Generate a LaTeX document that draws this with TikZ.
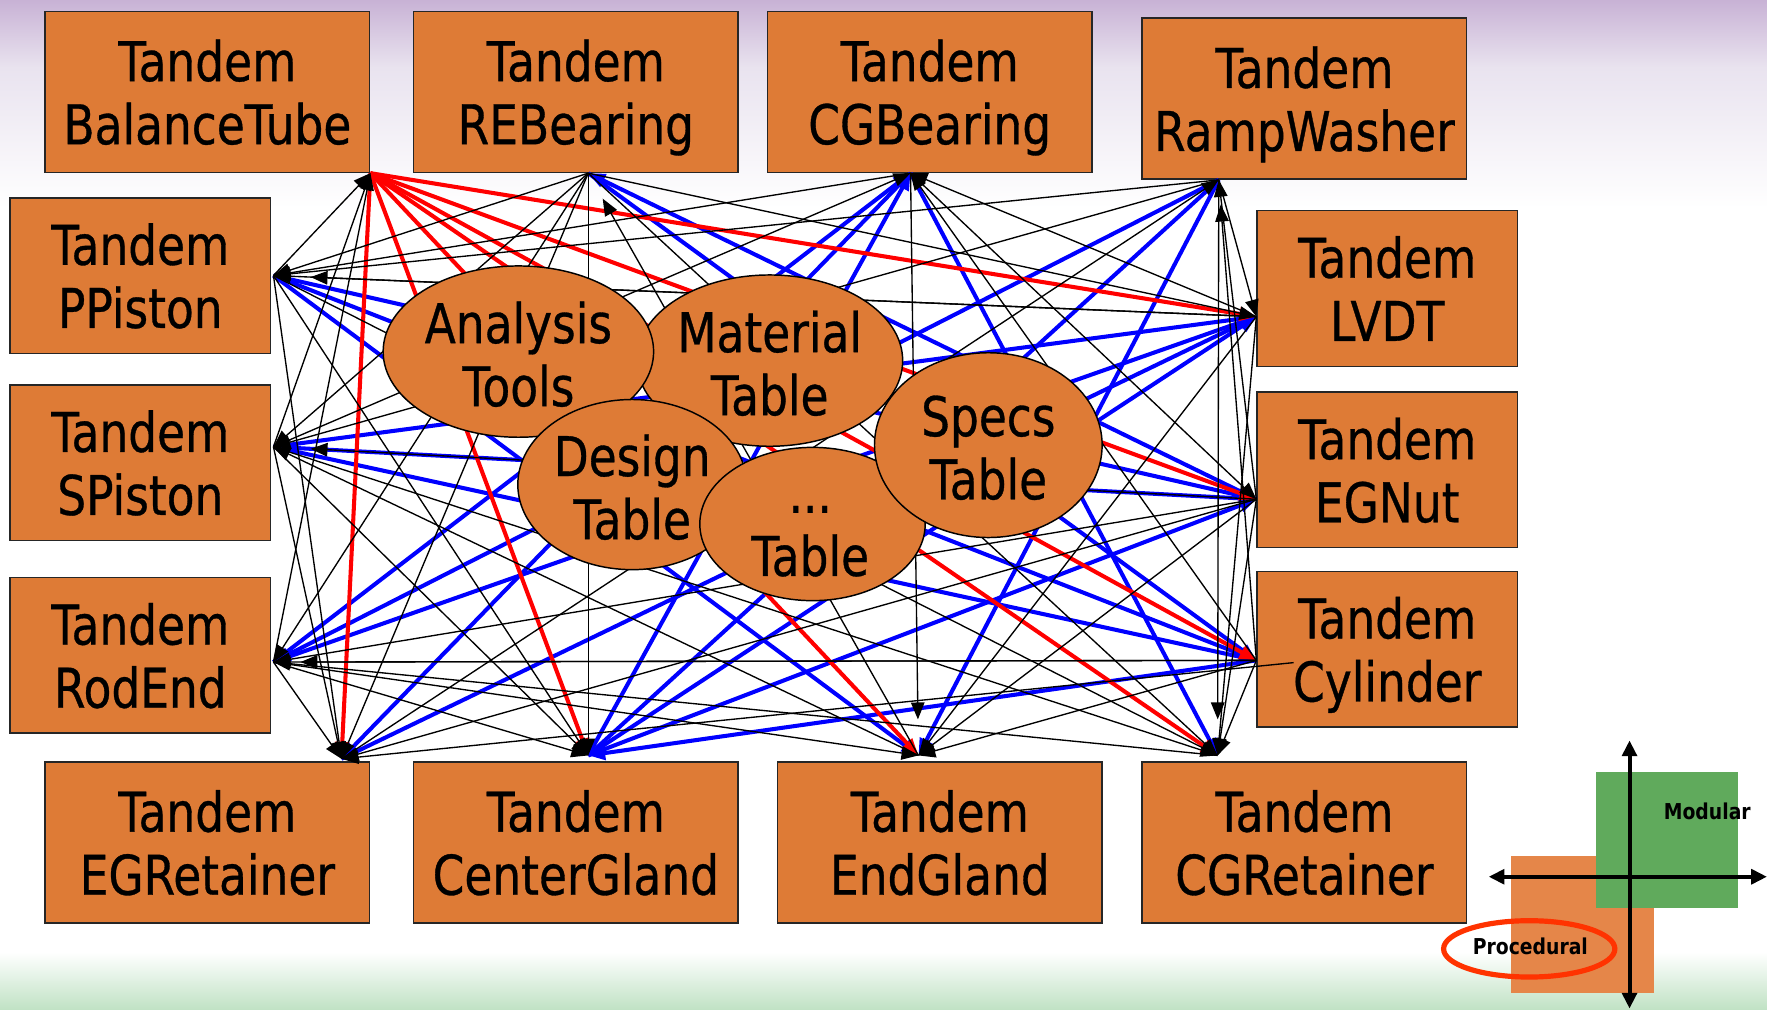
\documentclass[tikz,border=0pt]{standalone}
\usepackage{fontspec}
\usetikzlibrary{arrows.meta,shapes.geometric}
\newfontfamily\partfont[FakeStretch=0.83,FakeBold=0.6]{DejaVu Sans}
\newfontfamily\tagfont[FakeStretch=0.86]{DejaVu Sans}
\definecolor{partorange}{HTML}{DE7B36}
\definecolor{lavtop}{HTML}{C8B2D5}
\definecolor{lavmid}{HTML}{E9E3EF}
\definecolor{mint}{HTML}{C0E2C4}
\definecolor{quadgreen}{HTML}{60AA5C}
\definecolor{quadorange}{HTML}{E58649}
\definecolor{ringred}{HTML}{FF3300}

\tikzset{
  part/.style={draw=black!85, line width=1.3pt, fill=partorange, inner sep=0pt,
    minimum width=288pt, minimum height=143pt, align=center, text depth=0pt,
    font=\partfont\fontsize{48.6}{56}\selectfont},
  sidepart/.style={part, minimum width=231pt, minimum height=138pt},
  tbl/.style={ellipse, draw=black, line width=1.3pt, fill=partorange, inner sep=0pt},
  tbltext/.style={align=center, inner sep=0pt, text depth=0pt,
    font=\partfont\fontsize{48.6}{56}\selectfont},
  link/.style={line width=1.2pt, -{Triangle[length=15pt,width=12pt]}},
  bluelink/.style={link, blue, line width=3.6pt},
  redlink/.style={link, red, line width=3.6pt},
  axis/.style={line width=3.6pt, {Triangle[length=14pt,width=13pt]}-{Triangle[length=14pt,width=13pt]}},
  tag/.style={inner sep=0pt, font=\tagfont\bfseries\fontsize{19.4}{22}\selectfont},
}

\begin{document}
\begin{tikzpicture}[x=1pt,y=-1pt]
\useasboundingbox (0,0) rectangle (1568,896);

% page background
\fill[white] (0,0) rectangle (1568,896);
\shade[top color=lavtop, bottom color=lavmid] (0,0) rectangle (1568,60);
\shade[top color=lavmid, bottom color=white] (0,60) rectangle (1568,185);
\shade[top color=white, bottom color=mint] (0,845) rectangle (1568,896);

% component boxes
\node[part] (bt)  at (184,81.5)    {Tandem\\BalanceTube};
\node[part] (reb) at (511,81.5)    {Tandem\\REBearing};
\node[part] (cgb) at (825,81.5)    {Tandem\\CGBearing};
\node[part] (rw)  at (1157.5,87.5) {Tandem\\RampWasher};
\node[sidepart] (lvdt) at (1231,256) {Tandem\\LVDT};
\node[sidepart] (egn)  at (1231,417) {Tandem\\EGNut};
\node[sidepart] (cyl)  at (1231,576) {Tandem\\Cylinder};
\node[part] (egr) at (184,747.5)    {Tandem\\EGRetainer};
\node[part] (cgl) at (511,747.5)    {Tandem\\CenterGland};
\node[part] (egl) at (834,747.5)    {Tandem\\EndGland};
\node[part] (cgr) at (1157.5,747.5) {Tandem\\CGRetainer};
\node[sidepart] (pp) at (124.5,244.5) {Tandem\\PPiston};
\node[sidepart] (sp) at (124.5,410.5) {Tandem\\SPiston};
\node[sidepart] (re) at (124.5,581.5) {Tandem\\RodEnd};

% connection points on the boxes
\coordinate (hbt)   at (bt.south east);
\coordinate (hreb)  at ([xshift=11pt]reb.south);
\coordinate (hcgb)  at ([xshift=-17pt]cgb.south);
\coordinate (hrw)   at ([xshift=-76pt]rw.south);
\coordinate (hlvdt) at ([yshift=-25pt]lvdt.west);
\coordinate (hegn)  at ([yshift=-26pt]egn.west);
\coordinate (hcyl)  at ([yshift=-10pt]cyl.west);
\coordinate (hcylin) at ([xshift=33pt,yshift=-12pt]cyl.west);
\coordinate (hegr)  at ([xshift=119pt,yshift=2pt]egr.north);
\coordinate (hcgl)  at ([xshift=11pt,yshift=5pt]cgl.north);
\coordinate (hegl)  at ([xshift=-19pt,yshift=5pt]egl.north);
\coordinate (hcgr)  at ([xshift=-77pt,yshift=5pt]cgr.north);
\coordinate (hpp)   at ([xshift=2pt]pp.east);
\coordinate (hsp)   at ([xshift=2pt,yshift=14pt]sp.east);
\coordinate (hre)   at ([xshift=2pt,yshift=-6pt]re.east);

% strong links
\foreach \a/\b in {hreb/hcyl, hcgb/hegr, hcgl/hcgb, hcgb/hcgr, hcgl/hrw, hre/hcgb,
  hrw/hre, hegr/hlvdt, hcgl/hlvdt, hcgl/hegn, hsp/hlvdt, hre/hlvdt, hpp/hegn,
  hsp/hegn, hpp/hcyl, hsp/hcyl, hpp/hegl, hcyl/hcgl, hrw/hegl, hegn/hreb}
  \draw[bluelink] (\a) -- (\b);
\foreach \b in {hlvdt, hegn, hcyl, hcgr, hegl, hcgl, hegr}
  \draw[redlink] (hbt) -- (\b);

% ordinary links
\foreach \a/\b in {hreb/hlvdt, hlvdt/hcgb, hcgb/hegn, hcyl/hcgb, hrw/hlvdt, hegn/hrw,
  hreb/hegr, hreb/hcgl, hreb/hcgr, hegr/hrw,
  hpp/hbt, hsp/hbt, hre/hbt, hreb/hpp, hreb/hsp, hreb/hre, hcgb/hpp, hsp/hcgb,
  hrw/hpp, hrw/hsp,
  hlvdt/hegl, hlvdt/hcgr, hegn/hegr, hegn/hegl, hegn/hcgr, hcylin/hegr, hcyl/hegl,
  hcyl/hcgr,
  hegn/hre, hcyl/hre, hlvdt/hpp,
  hpp/hegr, hsp/hegr, hre/hegr, hpp/hcgl, hsp/hcgl, hre/hcgl, hegl/hsp, hre/hegl,
  hpp/hcgr, hsp/hcgr, hcgr/hre}
  \draw[link] (\a) -- (\b);
\draw[link, shorten >=22pt] (hcyl) -- (hrw);
\draw[link, shorten >=26pt] (hegl) -- (hreb);
\draw[link, shorten >=32pt] (hcgb) -- (hegl);
\draw[link, shorten >=32pt] (hrw) -- (hcgr);
\draw[link, shorten >=33pt] (hlvdt) -- (hpp);
\draw[link, shorten >=33pt] (hegn) -- (hsp);
\draw[link, shorten >=24pt] (hcyl) -- (hre);

% data tables
\node[tbl, minimum width=236pt, minimum height=152pt] (mat) at (683,320) {};
\node[tbl, minimum width=240pt, minimum height=152pt] (ana) at (460,312) {};
\node[tbl, minimum width=203pt, minimum height=151pt] (des) at (561,430) {};
\node[tbl, minimum width=200pt, minimum height=136pt] (etc) at (721,465) {};
\node[tbl, minimum width=202pt, minimum height=164pt] (spc) at (877,395) {};
\node[tbltext] (matt) at (683,322) {Material\\Table};
\node[tbltext] (anat) at (460,314) {Analysis\\Tools};
\node[tbltext] (dest) at (561,432) {Design\\Table};
\node[tbltext] (etct) at (719,480) {...\\Table};
\node[tbltext] (spct) at (877,397) {Specs\\Table};

% modular / procedural quadrant
\fill[quadorange] (1341,760) rectangle (1468,881);
\fill[quadgreen] (1416,685) rectangle (1542,806);
\draw[axis] (1446,657) -- (1446,895);
\draw[axis] (1321,778) -- (1568,778);
\node[tag] (modular) at (1515,720) {Modular};
\node[tag] (procedural) at (1358,840) {Procedural};
\node[ellipse, draw=ringred, line width=4.6pt, inner sep=0pt,
  minimum width=152pt, minimum height=50pt] (ring) at (1357,842) {};
\end{tikzpicture}
\end{document}
